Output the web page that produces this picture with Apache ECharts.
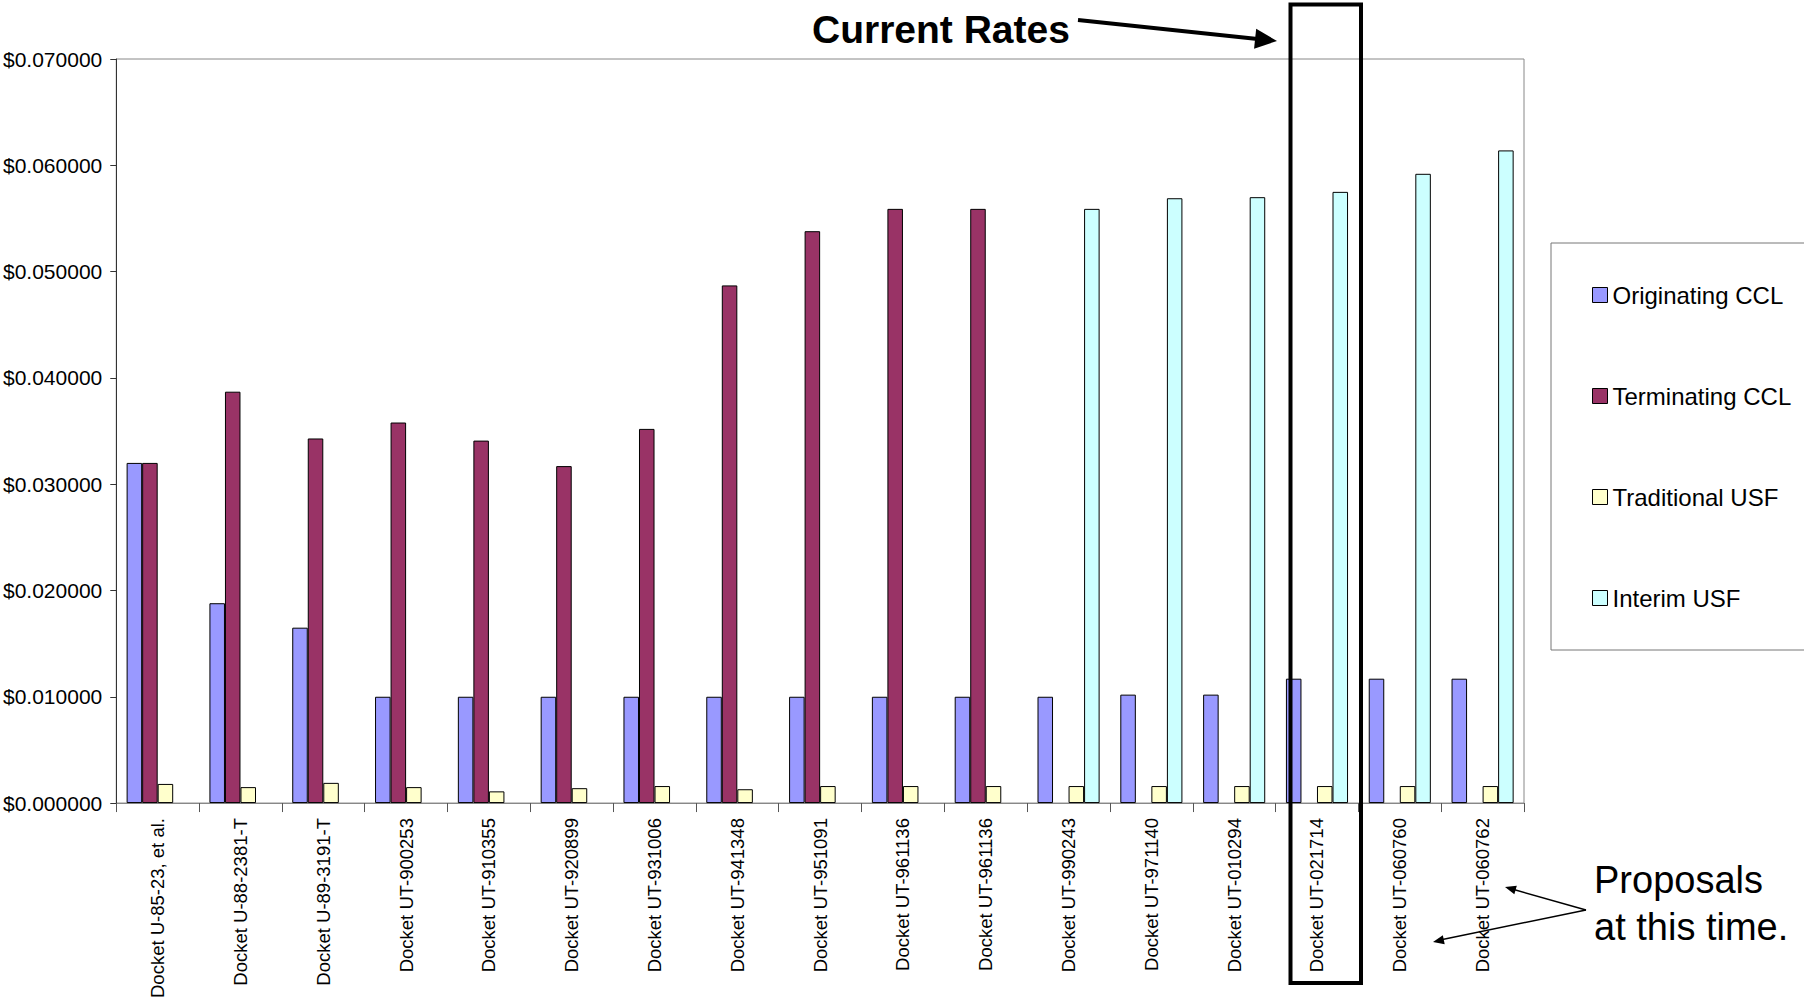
<!DOCTYPE html>
<html>
<head>
<meta charset="utf-8">
<script src="https://cdn.jsdelivr.net/npm/echarts@6/dist/echarts.min.js"></script>
<style>
html,body{margin:0;padding:0;background:#fff;}
#chart{width:1804px;height:1001px;}
</style>
</head>
<body>
<div id="chart"></div>
<script>
const categories = [
  'Docket U-85-23, et al.', 'Docket U-88-2381-T', 'Docket U-89-3191-T', 'Docket UT-900253',
  'Docket UT-910355', 'Docket UT-920899', 'Docket UT-931006', 'Docket UT-941348',
  'Docket UT-951091', 'Docket UT-961136', 'Docket UT-961136', 'Docket UT-990243',
  'Docket UT-971140', 'Docket UT-010294', 'Docket UT-021714', 'Docket UT-060760',
  'Docket UT-060762'
];
const originatingCCL = [0.0320, 0.0188, 0.0165, 0.0100, 0.0100, 0.0100, 0.0100, 0.0100, 0.0100, 0.0100, 0.0100, 0.0100, 0.0102, 0.0102, 0.0117, 0.0117, 0.0117];
const terminatingCCL = [0.0320, 0.0387, 0.0343, 0.0358, 0.0341, 0.0317, 0.0352, 0.0487, 0.0538, 0.0559, 0.0559, null, null, null, null, null, null];
const traditionalUSF = [0.0018, 0.0015, 0.0019, 0.0015, 0.0011, 0.0014, 0.0016, 0.0013, 0.0016, 0.0016, 0.0016, 0.0016, 0.0016, 0.0016, 0.0016, 0.0016, 0.0016];
const interimUSF = [null, null, null, null, null, null, null, null, null, null, null, 0.0559, 0.0569, 0.0570, 0.0575, 0.0592, 0.0614];
const seriesNames = ['Originating CCL', 'Terminating CCL', 'Traditional USF', 'Interim USF'];
const seriesColors = ['#9999FF', '#993366', '#FFFFCC', '#CCFFFF'];
const seriesData = [originatingCCL, terminatingCCL, traditionalUSF, interimUSF];

const FONT = "'Liberation Sans', Arial, sans-serif";
const chart = echarts.init(document.getElementById('chart'), null, {renderer: 'svg'});

function arrowHead(tipX, tipY, fromX, fromY, len, half) {
  const dx = tipX - fromX, dy = tipY - fromY;
  const d = Math.sqrt(dx * dx + dy * dy);
  const ux = dx / d, uy = dy / d;
  const bx = tipX - ux * len, by = tipY - uy * len;
  return [[tipX, tipY], [bx - uy * half, by + ux * half], [bx + uy * half, by - ux * half]];
}

const option = {
  backgroundColor: '#fff',
  animation: false,
  grid: {
    left: 115, right: 280, top: 59, bottom: 194,
    show: true, borderColor: '#888', borderWidth: 1, backgroundColor: 'transparent'
  },
  legend: {
    orient: 'vertical',
    left: 1587, top: 278,
    itemWidth: 15, itemHeight: 15, itemGap: 77,
    icon: 'rect',
    itemStyle: {borderColor: '#000', borderWidth: 1},
    textStyle: {fontFamily: FONT, fontSize: 24, color: '#000', lineHeight: 24},
    data: seriesNames
  },
  xAxis: {
    type: 'category',
    data: categories,
    boundaryGap: true,
    axisLine: {lineStyle: {color: '#888', width: 1}},
    axisTick: {show: true, interval: 0, length: 9, lineStyle: {color: '#555'}},
    axisLabel: {
      interval: 0, rotate: 90, margin: 15,
      fontFamily: FONT, fontSize: 18.5, color: '#000'
    },
    splitLine: {show: false}
  },
  yAxis: {
    type: 'value',
    min: 0, max: 0.07, interval: 0.01,
    axisLine: {show: true, lineStyle: {color: '#333', width: 1}},
    axisTick: {show: true, length: 6, lineStyle: {color: '#333'}},
    axisLabel: {
      margin: 14, fontFamily: FONT, fontSize: 21, color: '#000',
      formatter: v => '$' + v.toFixed(6)
    },
    splitLine: {show: false}
  },
  series: seriesNames.map((name, i) => ({
    name: name,
    type: 'bar',
    data: seriesData[i],
    barGap: '0%',
    barCategoryGap: '25%',
    itemStyle: {color: seriesColors[i], borderColor: '#000', borderWidth: 1}
  })),
  graphic: [
    {
      type: 'rect', silent: true,
      shape: {x: 1551, y: 243, width: 300, height: 407},
      style: {fill: 'none', stroke: '#777', lineWidth: 1}
    },
    {
      type: 'rect', silent: true, z: 100,
      shape: {x: 1290.5, y: 4.5, width: 70.5, height: 978.5},
      style: {fill: 'none', stroke: '#000', lineWidth: 4}
    },
    {
      type: 'text', z: 100,
      style: {text: 'Current Rates', x: 812, y: 29, textVerticalAlign: 'middle',
        font: "bold 39px 'Liberation Sans', Arial, sans-serif", fill: '#000'}
    },
    {
      type: 'line', z: 100,
      shape: {x1: 1078, y1: 20, x2: 1260, y2: 39.2},
      style: {stroke: '#000', lineWidth: 4}
    },
    {
      type: 'polygon', z: 100,
      shape: {points: arrowHead(1277, 41, 1078, 20, 22, 10)},
      style: {fill: '#000'}
    },
    {
      type: 'text', z: 100,
      style: {text: 'Proposals', x: 1594, y: 880, textVerticalAlign: 'middle',
        font: "38px 'Liberation Sans', Arial, sans-serif", fill: '#000'}
    },
    {
      type: 'text', z: 100,
      style: {text: 'at this time.', x: 1594, y: 927, textVerticalAlign: 'middle',
        font: "38px 'Liberation Sans', Arial, sans-serif", fill: '#000'}
    },
    {
      type: 'line', z: 100,
      shape: {x1: 1586, y1: 910, x2: 1512, y2: 889},
      style: {stroke: '#000', lineWidth: 1.5}
    },
    {
      type: 'polygon', z: 100,
      shape: {points: arrowHead(1505, 887, 1586, 910, 11, 4.5)},
      style: {fill: '#000'}
    },
    {
      type: 'line', z: 100,
      shape: {x1: 1586, y1: 910, x2: 1440, y2: 940},
      style: {stroke: '#000', lineWidth: 1.5}
    },
    {
      type: 'polygon', z: 100,
      shape: {points: arrowHead(1433, 942, 1586, 910, 11, 4.5)},
      style: {fill: '#000'}
    }
  ]
};
chart.setOption(option);
</script>
</body>
</html>
